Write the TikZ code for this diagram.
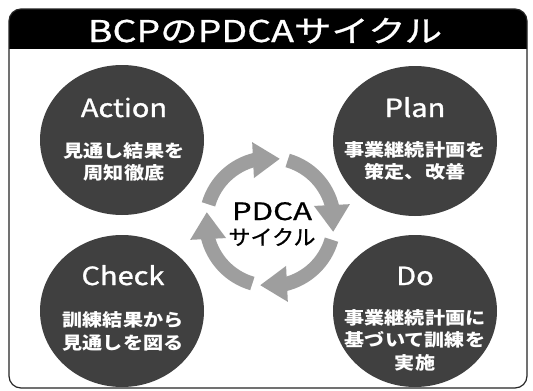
\documentclass[tikz,border=0pt]{standalone}
\usepackage{fontspec}
\setmainfont{Noto Sans CJK JP}
\newfontfamily\titlefont[FakeStretch=1.25,FakeBold=0.8]{Noto Sans CJK JP}
\newfontfamily\latfont[FakeStretch=1.16,FakeBold=1.2]{Noto Sans CJK JP}
\newfontfamily\jpfont[FakeStretch=1.15]{Noto Sans CJK JP}
\newfontfamily\cenlat[FakeStretch=1.3,FakeBold=0.8]{Noto Sans CJK JP}
\newfontfamily\cenjp[FakeStretch=1.05,FakeBold=0.8]{Noto Sans CJK JP}
\usetikzlibrary{arrows.meta,bending}
\definecolor{disc}{gray}{0.25}
\definecolor{cyc}{gray}{0.62}
\tikzset{
  head/.style={text=white, anchor=base, inner sep=0pt, font=\latfont\fontsize{25}{25}\selectfont},
  body/.style={text=white, anchor=center, inner sep=0pt, font=\jpfont\fontsize{17.5}{17.5}\selectfont\bfseries},
  cycarrow/.style={draw=cyc, line width=14pt, -{Triangle[width=34pt,length=27pt]}},
}
\begin{document}
\begin{tikzpicture}[x=1pt,y=-1pt]
\useasboundingbox (0,0) rectangle (533,391);
\fill[white] (0,0) rectangle (533,391);
% title bar
\begin{scope}
  \clip (0,0) rectangle (533,48);
  \fill[black, rounded corners=12pt] (9,9) rectangle (527,70);
\end{scope}
\draw[black!85, line width=1.2pt, rounded corners=12pt] (9,9) rectangle (527,388);
\node[text=white, anchor=base, inner sep=0pt, font=\titlefont\fontsize{30}{30}\selectfont] (title) at (265,42) {BCPのPDCAサイクル};
% discs
\fill[disc] (122,140) ellipse[x radius=82, y radius=75];
\fill[disc] (415,141) ellipse[x radius=82, y radius=75];
\fill[disc] (122,311) ellipse[x radius=82, y radius=76];
\fill[disc] (415,311) ellipse[x radius=82, y radius=76];
% Action
\node[head] (acth) at (124,117) {Action};
\node[body] (act1) at (124,151) {見通し結果を};
\node[body] (act2) at (124,173) {周知徹底};
% Plan
\node[head] (plah) at (415,117) {Plan};
\node[body] (pla1) at (415,150) {事業継続計画を};
\node[body] (pla2) at (415,172) {策定、改善};
% Check
\node[head] (chkh) at (123,285) {Check};
\node[body] (chk1) at (123,320) {訓練結果から};
\node[body] (chk2) at (123,343) {見通しを図る};
% Do
\node[head] (doh) at (415,285) {Do};
\node[body] (do1) at (415,318) {事業継続計画に};
\node[body] (do2) at (415,340) {基づいて訓練を};
\node[body] (do3) at (415,363) {実施};
% cycle
\coordinate (c) at (270,222);
\draw[cycarrow] ([shift={(-164:64)}]c) arc[start angle=-164, end angle=-81, radius=64];
\draw[cycarrow] ([shift={(-74:64)}]c) arc[start angle=-74, end angle=9, radius=64];
\draw[cycarrow] ([shift={(16:64)}]c) arc[start angle=16, end angle=99, radius=64];
\draw[cycarrow] ([shift={(106:64)}]c) arc[start angle=106, end angle=189, radius=64];
\node[anchor=base, inner sep=0pt, font=\cenlat\fontsize{24}{24}\selectfont] (pdca) at (272,220) {PDCA};
\node[anchor=center, inner sep=0pt, font=\cenjp\fontsize{21}{21}\selectfont] (cycl) at (272,237) {サイクル};
\end{tikzpicture}
\end{document}
